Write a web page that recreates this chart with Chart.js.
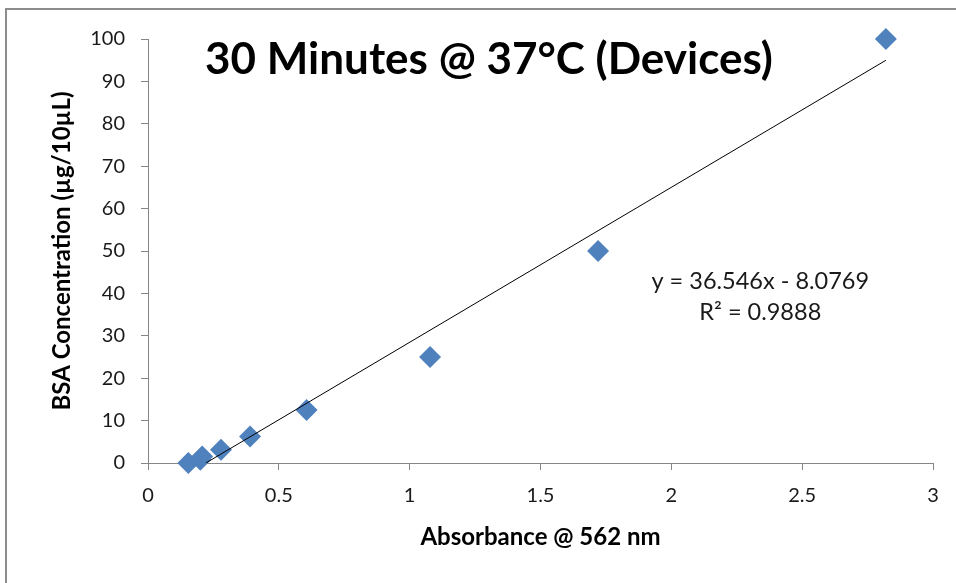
<!DOCTYPE html>
<html>
<head>
<meta charset="utf-8">
<script src="https://cdn.jsdelivr.net/npm/chart.js@4.4.0/dist/chart.umd.min.js"></script>
<style>
  html, body { margin: 0; padding: 0; background: #fff; }
  #wrap { position: relative; width: 956px; height: 583px; overflow: hidden; }
  #frame { position: absolute; left: 5px; top: 8px; width: 980px; height: 600px; border: 2px solid #8c8c8c; box-sizing: border-box; }
  canvas { position: absolute; left: 0; top: 0; }
</style>
</head>
<body>
<div id="wrap">
  <div id="frame"></div>
  <canvas id="chart" width="956" height="583"></canvas>
</div>
<script>
// standards
const absorbance = [0.154, 0.200, 0.207, 0.279, 0.390, 0.606, 1.078, 1.720, 2.820];
const bsaConc = [0, 0.78, 1.5625, 3.125, 6.25, 12.5, 25, 50, 100];

// linear trendline (as printed on the chart)
const slope = 36.546;
const intercept = -8.0769;
const rSquared = 0.9888;

const xTicks = [0, 0.5, 1, 1.5, 2, 2.5, 3];
const yTicks = [0, 10, 20, 30, 40, 50, 60, 70, 80, 90, 100];

const titleText = '30 Minutes @ 37°C (Devices)';
const xTitle = 'Absorbance @ 562 nm';
const yTitle = 'BSA Concentration (µg/10µL)';

const axisColor = '#868686';
const markerColor = '#4f81bd';

const points = absorbance.map((a, i) => ({ x: a, y: bsaConc[i] }));

// trendline spans the data range, starting where it crosses 0
const xStart = Math.max(Math.min(...absorbance), -intercept / slope);
const xEnd = Math.max(...absorbance);
const trend = [
  { x: xStart, y: slope * xStart + intercept },
  { x: xEnd, y: slope * xEnd + intercept }
];

const textPlugin = {
  id: 'chartText',
  afterDatasetsDraw(chart) {
    const { ctx, scales: { x, y } } = chart;
    ctx.save();
    ctx.fillStyle = '#000';
    ctx.textAlign = 'center';
    ctx.textBaseline = 'middle';
    ctx.font = 'bold 44px Lato';
    ctx.fillText(titleText, 489, 60);
    ctx.font = '23.5px Lato';
    ctx.fillStyle = '#1a1a1a';
    ctx.fillText(`y = ${slope}x - ${Math.abs(intercept)}`, x.getPixelForValue(2.34), y.getPixelForValue(42.9));
    ctx.fillText(`R² = ${rSquared}`, x.getPixelForValue(2.34), y.getPixelForValue(35.6));
    ctx.restore();
  }
};

function makeChart() {
  new Chart(document.getElementById('chart'), {
    type: 'scatter',
    data: {
      datasets: [
        {
          type: 'line',
          data: trend,
          borderColor: '#000',
          borderWidth: 1,
          pointRadius: 0,
          fill: false,
          order: 0
        },
        {
          data: points,
          pointStyle: 'rectRot',
          pointRadius: 11,
          pointBackgroundColor: markerColor,
          pointBorderColor: markerColor,
          pointBorderWidth: 0,
          clip: false,
          order: 1
        }
      ]
    },
    options: {
      responsive: false,
      animation: false,
      devicePixelRatio: 1,
      layout: { padding: { top: 39, right: 23, bottom: 0, left: 0 } },
      plugins: {
        legend: { display: false },
        tooltip: { enabled: false }
      },
      scales: {
        x: {
          type: 'linear',
          min: 0,
          max: 3,
          afterBuildTicks: s => { s.ticks = xTicks.map(v => ({ value: v })); },
          afterFit: s => { s.height = 120; },
          grid: { drawOnChartArea: false, drawTicks: true, tickLength: 7, color: axisColor },
          border: { color: axisColor, width: 1 },
          ticks: {
            color: '#1a1a1a',
            padding: 14,
            font: { family: 'Lato', size: 20 },
            callback: v => String(v)
          },
          title: {
            display: true,
            text: xTitle,
            color: '#000',
            font: { family: 'Lato', size: 24, weight: 'bold' },
            padding: { top: 0, bottom: 31 }
          }
        },
        y: {
          type: 'linear',
          min: 0,
          max: 100,
          afterBuildTicks: s => { s.ticks = yTicks.map(v => ({ value: v })); },
          afterFit: s => { s.width = 148; },
          grid: { drawOnChartArea: false, drawTicks: true, tickLength: 7, color: axisColor },
          border: { color: axisColor, width: 1 },
          ticks: {
            color: '#1a1a1a',
            padding: 16,
            font: { family: 'Lato', size: 20 },
            callback: v => String(v)
          },
          title: {
            display: true,
            text: yTitle,
            color: '#000',
            font: { family: 'Lato', size: 24, weight: 'bold' },
            padding: { top: 48, bottom: 0 }
          }
        }
      }
    },
    plugins: [textPlugin]
  });
}

Promise.all([
  document.fonts.load('20px Lato'),
  document.fonts.load('bold 20px Lato')
]).then(makeChart, makeChart);
</script>
</body>
</html>
